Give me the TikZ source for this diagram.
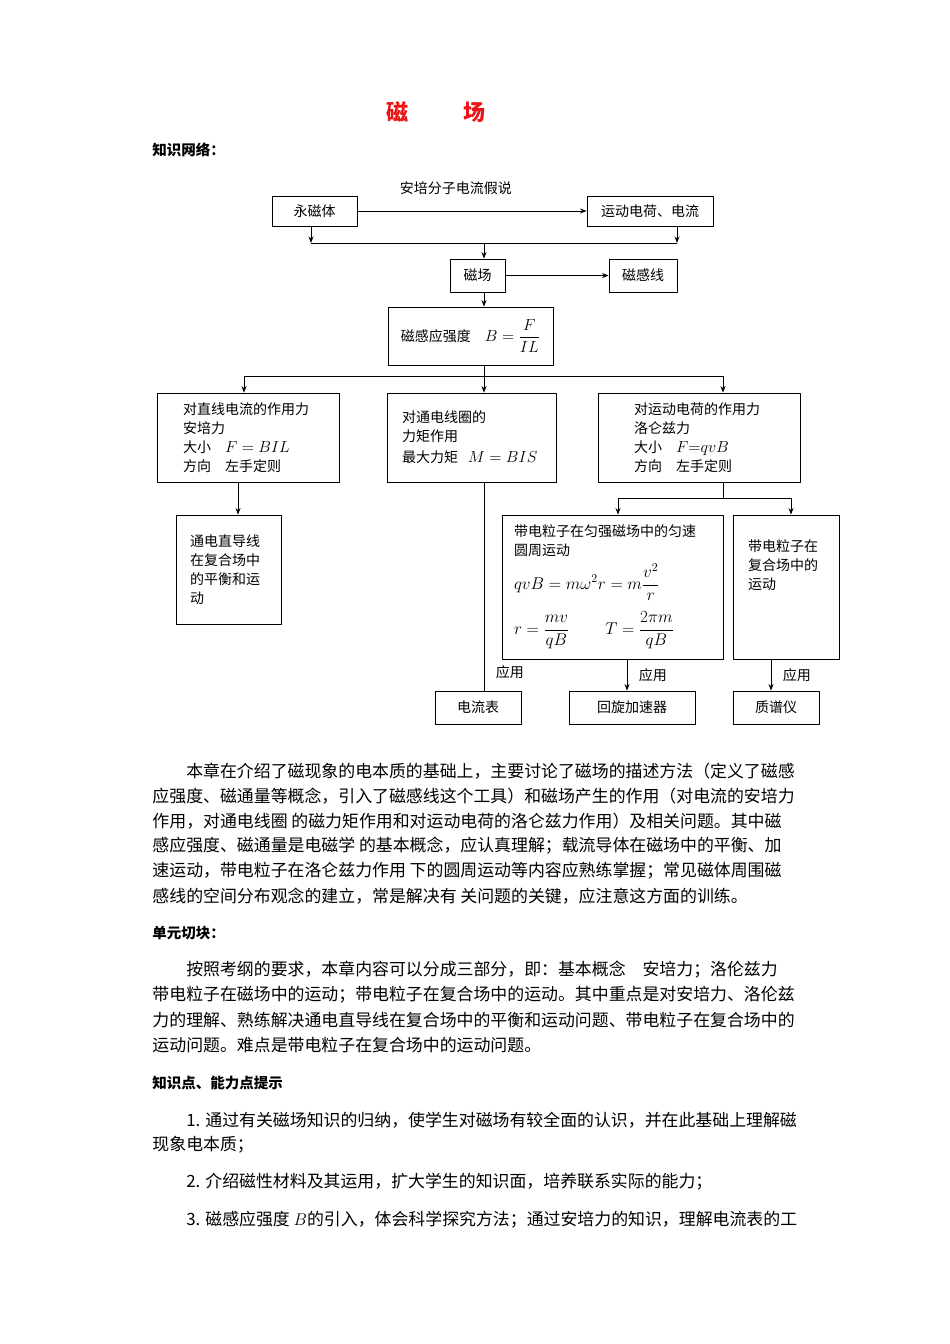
\RequirePackage{fix-cm}
\documentclass[tikz,border=0pt]{standalone}
\usepackage{amsmath}
\usepackage{fontspec}
\setmainfont{Noto Sans CJK SC}
\usetikzlibrary{arrows.meta}
\definecolor{titlered}{RGB}{236,20,20}
\newcommand{\fmla}[2]{\mbox{\fontsize{#1}{#1}\selectfont$#2$}}
\tikzset{
  box/.style={draw, inner sep=0pt, align=center},
  txtbox/.style={draw, align=left, inner ysep=0pt},
  bodyline/.style={anchor=west, inner sep=0pt, font=\fontsize{16.9}{25}\selectfont},
  heading/.style={anchor=west, inner sep=0pt, font=\bfseries\fontsize{14.5}{17}\selectfont},
}
\begin{document}
\begin{tikzpicture}[x=1pt, y=-1pt, line width=0.9pt, line join=round,
    >={Stealth[length=6.5pt,width=5pt]}, font=\fontsize{14}{19}\selectfont]
  \useasboundingbox (0,0) rectangle (950,1344);
  \node[inner sep=0pt, text=titlered, font=\bfseries\fontsize{22}{26}\selectfont] (title) at (436,112) {磁\hspace{56pt}场};
  \node[heading] (hnet) at (152,150) {知识网络：};
  % top part
  \node[box, minimum width=85pt, minimum height=30pt] (pm) at (314.5,211) {永磁体};
  \node[box, minimum width=126pt, minimum height=30pt] (yd) at (650,211) {运动电荷、电流};
  \node[box, minimum width=55pt, minimum height=33pt] (cc) at (477.5,275.5) {磁场};
  \node[box, minimum width=68pt, minimum height=33pt] (cgx) at (643,275.5) {磁感线};
  \node[box, minimum width=165pt, minimum height=58pt] (cq) at (470.5,336) {磁感应强度\quad \fmla{16}{B=\dfrac{F\rule[-3pt]{0pt}{14pt}}{IL\rule{0pt}{13pt}}}};
  % three forces
  \node[txtbox, text width=130pt, inner xsep=26pt, minimum height=89pt] (fa) at (248,437.5)
    {对直线电流的作用力\\安培力\\大小\quad \fmla{16}{F=BIL}\\方向\quad 左手定则};
  \node[txtbox, text width=139pt, inner xsep=15pt, minimum height=89pt] (fb) at (471.5,437.5)
    {对通电线圈的\\力矩作用\\[2pt]最大力矩\hspace{10pt}\fmla{16}{M=BIS}};
  \node[txtbox, text width=130pt, inner xsep=36pt, minimum height=89pt] (fc) at (699,437.5)
    {对运动电荷的作用力\\洛仑兹力\\大小\quad \fmla{16}{F{=}qvB}\\方向\quad 左手定则};
  \node[txtbox, text width=77pt, inner xsep=14pt, minimum height=109pt] (fd) at (228.5,569.5)
    {通电直导线\\在复合场中\\的平衡和运\\动};
  \node[txtbox, text width=197pt, inner xsep=12pt, minimum height=144pt] (fe) at (612.5,587)
    {带电粒子在匀强磁场中的匀速\\圆周运动\\[6pt]\fmla{17}{qvB=m\omega^2r=m\dfrac{v^2}{r}}\\[10pt]\fmla{17}{r=\dfrac{mv}{qB}}\hspace{36pt}\fmla{17}{T=\dfrac{2\pi m}{qB}}};
  \node[txtbox, text width=76pt, inner xsep=15pt, minimum height=144pt] (ff) at (786,587)
    {带电粒子在\\复合场中的\\运动\\[26pt]\mbox{}};
  % applications
  \node[box, minimum width=86pt, minimum height=33pt] (dlb) at (478,707.5) {电流表};
  \node[box, minimum width=126pt, minimum height=33pt] (hx) at (632,707.5) {回旋加速器};
  \node[box, minimum width=86pt, minimum height=33pt] (zp) at (776,707.5) {质谱仪};
  % junctions
  \coordinate (j1) at (311,243);
  \coordinate (j2) at (677,243);
  \coordinate (j0) at (484,243);
  \coordinate (k0) at (484,376);
  \coordinate (kA) at (244,376);
  \coordinate (kC) at (723,376);
  \coordinate (m0) at (723,498);
  \coordinate (mE) at (618,498);
  \coordinate (mF) at (791,498);
  \coordinate (nE) at (627,675);
  \coordinate (nF) at (771,675);
  % connectors
  \draw[->] (pm.east) -- (yd.west) node[pos=.43, above=16pt, inner sep=0pt] (hyp) {安培分子电流假说};
  \draw[->] (pm.south -| j1) -- (j1);
  \draw[->] (yd.south -| j2) -- (j2);
  \draw (j1) -- (j2);
  \draw[->] (j0) -- (cc.north -| j0);
  \draw[->] (cc.east) -- (cgx.west);
  \draw[->] (cc.south -| j0) -- (cq.north -| j0);
  \draw (cq.south -| k0) -- (k0);
  \draw (kA) -- (kC);
  \draw[->] (kA) -- (fa.north -| kA);
  \draw[->] (k0) -- (fb.north -| k0);
  \draw[->] (kC) -- (fc.north -| kC);
  \draw[->] ([xshift=-10pt]fa.south) -- ([xshift=-10pt]fa.south |- fd.north);
  \draw (fc.south -| m0) -- (m0);
  \draw (mE) -- (mF);
  \draw[->] (mE) -- (fe.north -| mE);
  \draw[->] (mF) -- (ff.north -| mF);
  \draw (fb.south -| k0) -- (dlb.north -| k0) node[pos=.91, right=8pt] (use1) {应用};
  \draw[->] (fe.south -| nE) -- (hx.north -| nE) node[midway, right=8pt] (use2) {应用};
  \draw[->] (ff.south -| nF) -- (zp.north -| nF) node[midway, right=8pt] (use3) {应用};
  % text below
  \node[bodyline] (p10) at (185.8,771) {本章在介绍了磁现象的电本质的基础上，主要讨论了磁场的描述方法（定义了磁感};
  \foreach \ln [count=\i] in {
    {应强度、磁通量等概念，引入了磁感线这个工具）和磁场产生的作用（对电流的安培力},
    {作用，对通电线圈 的磁力矩作用和对运动电荷的洛仑兹力作用）及相关问题。其中磁},
    {感应强度、磁通量是电磁学 的基本概念，应认真理解；载流导体在磁场中的平衡、加},
    {速运动，带电粒子在洛仑兹力作用 下的圆周运动等内容应熟练掌握；常见磁体周围磁},
    {感线的空间分布观念的建立，常是解决有 关问题的关键，应注意这方面的训练。}}
    \node[bodyline] (p1\i) at (152,{771+25*\i}) {\ln};
  \node[heading] (hunit) at (152,933) {单元切块：};
  \node[bodyline] (p20) at (185.8,970) {按照考纲的要求，本章内容可以分成三部分，即：基本概念　安培力；洛伦兹力};
  \foreach \ln [count=\i] in {
    {带电粒子在磁场中的运动；带电粒子在复合场中的运动。其中重点是对安培力、洛伦兹},
    {力的理解、熟练解决通电直导线在复合场中的平衡和运动问题、带电粒子在复合场中的},
    {运动问题。难点是带电粒子在复合场中的运动问题。}}
    \node[bodyline] (p2\i) at (152,{970+25*\i}) {\ln};
  \node[heading] (hpoint) at (152,1083) {知识点、能力点提示};
  \node[bodyline] (q1) at (185.8,1120) {1. 通过有关磁场知识的归纳，使学生对磁场有较全面的认识，并在此基础上理解磁};
  \node[bodyline] (q1b) at (152,1145) {现象电本质；};
  \node[bodyline] (q2) at (185.8,1182) {2. 介绍磁性材料及其运用，扩大学生的知识面，培养联系实际的能力；};
  \node[bodyline] (q3) at (185.8,1220) {3. 磁感应强度 $B$的引入，体会科学探究方法；通过安培力的知识，理解电流表的工};
\end{tikzpicture}
\end{document}
